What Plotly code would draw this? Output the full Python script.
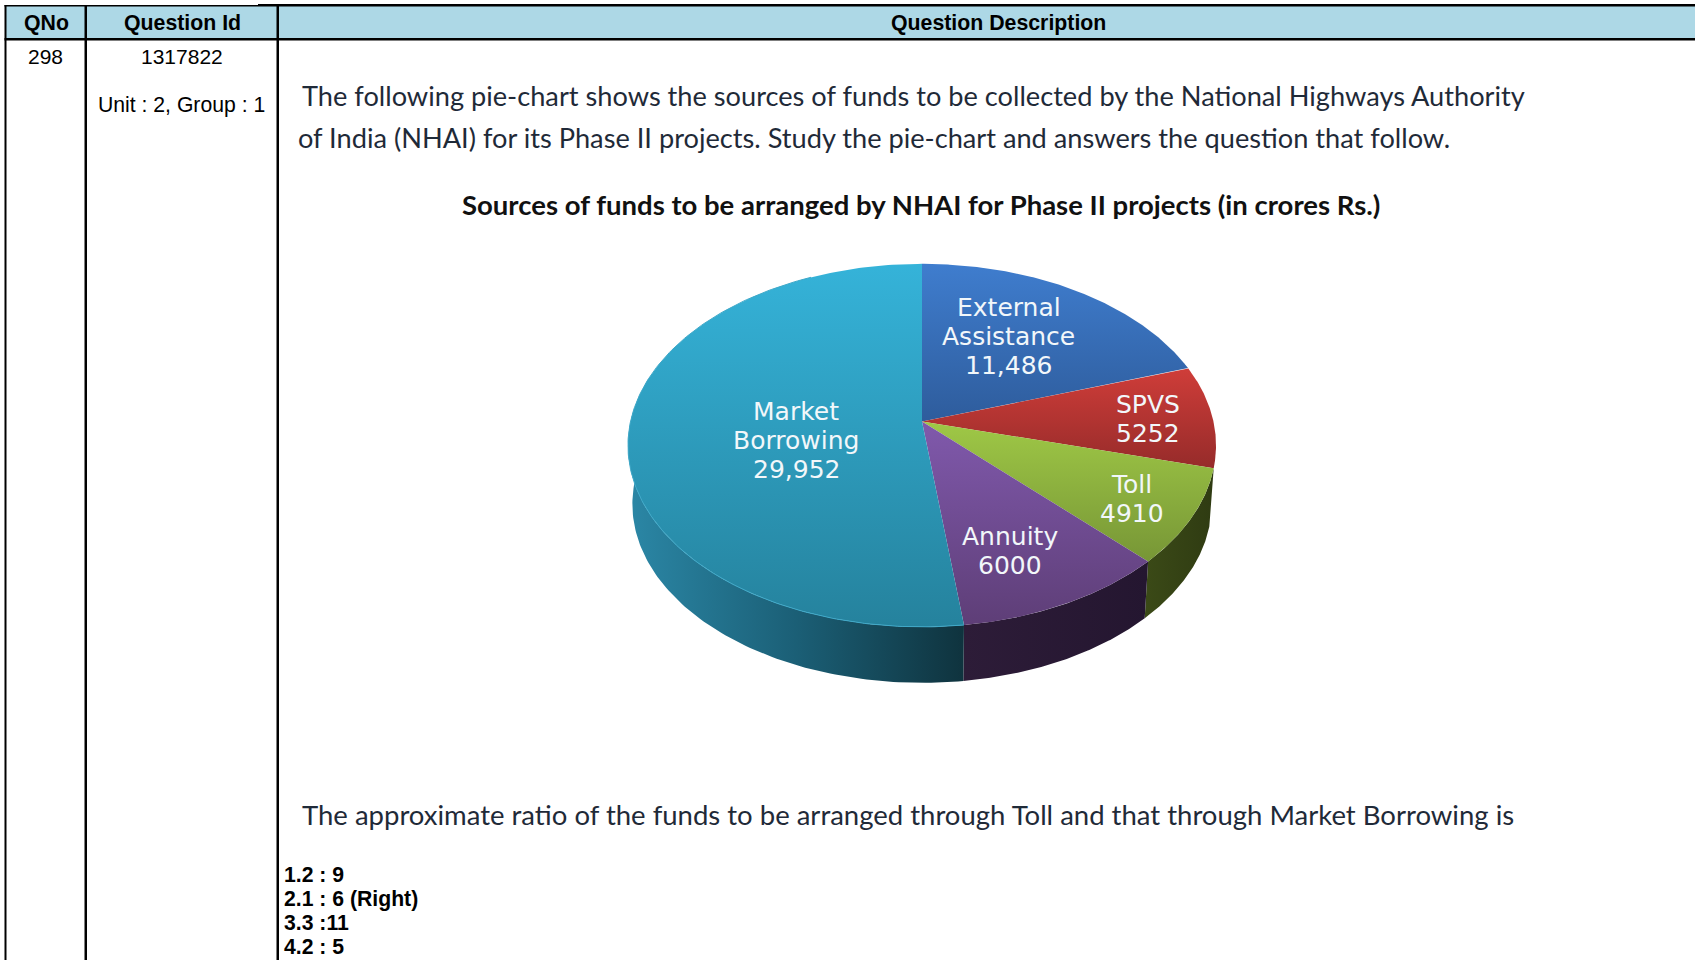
import numpy as np
import plotly.graph_objects as go

# ---- data ----
categories = [["External", "Assistance"], ["SPVS"], ["Toll"], ["Annuity"], ["Market", "Borrowing"]]
value_labels = ["11,486", "5252", "4910", "6000", "29,952"]
values = [11486, 5252, 4910, 6000, 29952]
top_colors = [["#3F7DCE", "#2E5C9C"], ["#CF3D39", "#962B2A"], ["#9FC846", "#779636"],
              ["#8059AC", "#5E3E77"], ["#35B3D9", "#25829D"]]
side_colors = [None, None, ["#3B4A17", "#2F3B12"], ["#2D1C38", "#241630"],
               ["#2B87A6", "#0F333E"]]
label_pos = [(1008.6, 336.5), (1148, 419), (1131.5, 499), (1010, 551), (796, 440.5)]

title = "Sources of funds to be arranged by NHAI for Phase II projects (in crores Rs.)"
intro = ["The following pie-chart shows the sources of funds to be collected by the National Highways Authority",
         "of India (NHAI) for its Phase II projects. Study the pie-chart and answers the question that follow."]
question = "The approximate ratio of the funds to be arranged through Toll and that through Market Borrowing is"
options = ["1.2 : 9", "2.1 : 6 (Right)", "3.3 :11", "4.2 : 5"]
headers = ["QNo", "Question Id", "Question Description"]

W, H = 1695, 960
CX, CY, A, B, K = 922.0, 421.6, 178.4, 291.5, 0.131   # tilted disc projection
DY, S = 59.0, 0.985                                   # depth of the lower disc


def project(theta, lower=False):
    sx, sy = np.sin(theta), np.cos(theta)
    d = 1 + K * sy
    s, off = (S, DY) if lower else (1.0, 0.0)
    return CX + s * B * sx / d, CY + off - s * A * sy / d


fig = go.Figure()
fracs = np.cumsum([0] + values) / sum(values) * 2 * np.pi

# sides first
for i in range(len(values)):
    if side_colors[i] is None:
        continue
    t0 = fracs[i]
    t1 = fracs[i + 1]
    t = np.linspace(t0, min(t1, 3 * np.pi / 2 + 0.25), 120)
    xa, ya = project(t)
    xb, yb = project(t[::-1], lower=True)
    fig.add_trace(go.Scatter(
        x=np.r_[xa, xb, xa[0]], y=np.r_[ya, yb, ya[0]], mode="lines", line=dict(width=0),
        fill="toself", hoverinfo="skip", showlegend=False,
        fillgradient=dict(type="horizontal",
                          colorscale=[[0, side_colors[i][0]], [0.5, "#1B5F76"], [1, side_colors[i][1]]]
                          if i == 4 else [[0, side_colors[i][0]], [1, side_colors[i][1]]])))

# top face
for i in range(len(values)):
    t = np.linspace(fracs[i], fracs[i + 1], 200)
    x, y = project(t)
    fig.add_trace(go.Scatter(
        x=np.r_[CX, x, CX], y=np.r_[CY, y, CY], mode="lines", line=dict(width=0),
        fill="toself", hoverinfo="skip", showlegend=False,
        fillgradient=dict(type="vertical",
                          colorscale=[[0, top_colors[i][1]], [1, top_colors[i][0]]])))

# light rim along the market slice
t = np.linspace(fracs[4], 2 * np.pi * 0.93, 200)
x, y = project(t)
fig.add_trace(go.Scatter(x=x, y=y, mode="lines", line=dict(width=1, color="#3FA9C9"),
                         hoverinfo="skip", showlegend=False))

shapes = []


def rect(x0, y0, x1, y1, color):
    shapes.append(dict(type="rect", xref="x", yref="y", x0=x0, y0=y0, x1=x1, y1=y1,
                       fillcolor=color, line=dict(width=0), layer="below"))


rect(5, 6, W, 38, "#ADD8E6")
rect(4.5, 5, 258, 6.5, "#000000")
rect(258, 4, W, 6.5, "#000000")
rect(4.5, 38, W, 40.5, "#000000")
rect(4.5, 5, 6.5, H, "#000000")
rect(84.5, 5, 87, H, "#000000")
rect(276.5, 4, 279, H, "#000000")

ann = []


def text(x, y, s, size, color="#000000", family="Liberation Sans", bold=False, anchor="center"):
    ann.append(dict(x=x, y=y, xref="x", yref="y", text=f"<b>{s}</b>" if bold else s, showarrow=False,
                    xanchor=anchor, yanchor="middle", align="center",
                    font=dict(size=size, color=color, family=family)))


for hx, h in zip([46, 182, 998], headers):
    text(hx, 23, h, 21.3, bold=True)
text(45.5, 56, "298", 21)
text(182, 56, "1317822", 21)
text(181, 105, "Unit : 2, Group : 1", 21.2)

LATO = "Lato"
text(300, 95.5, intro[0], 27.2, "#1F2A38", LATO, anchor="left")
text(296, 137.5, intro[1], 27.2, "#1F2A38", LATO, anchor="left")
text(921, 204, title, 27.5, "#111111", LATO, bold=True)
text(300, 814.5, question, 27.5, "#1F2A38", LATO, anchor="left")
for oy, o in zip([874.5, 898.5, 922.5, 946.5], options):
    text(282, oy, o, 21.2, bold=True, anchor="left")

LINE = 29
for (lx, ly), c, v in zip(label_pos, categories, value_labels):
    lines = c + [v]
    y0 = ly - (len(lines) - 1) * LINE / 2
    for j, s in enumerate(lines):
        text(lx, y0 + j * LINE, s, 25, "#F2F7FA", "DejaVu Sans")

fig.update_layout(
    width=W, height=H, margin=dict(l=0, r=0, t=0, b=0), autosize=False,
    paper_bgcolor="white", plot_bgcolor="white", showlegend=False,
    xaxis=dict(range=[0, W], visible=False, fixedrange=True),
    yaxis=dict(range=[H, 0], visible=False, fixedrange=True),
    shapes=shapes, annotations=ann,
)
fig.write_html("out.html", config=dict(displayModeBar=False),
               default_width=f"{W}px", default_height=f"{H}px",
               post_script="document.body.style.margin='0';document.documentElement.style.overflow='hidden';")
